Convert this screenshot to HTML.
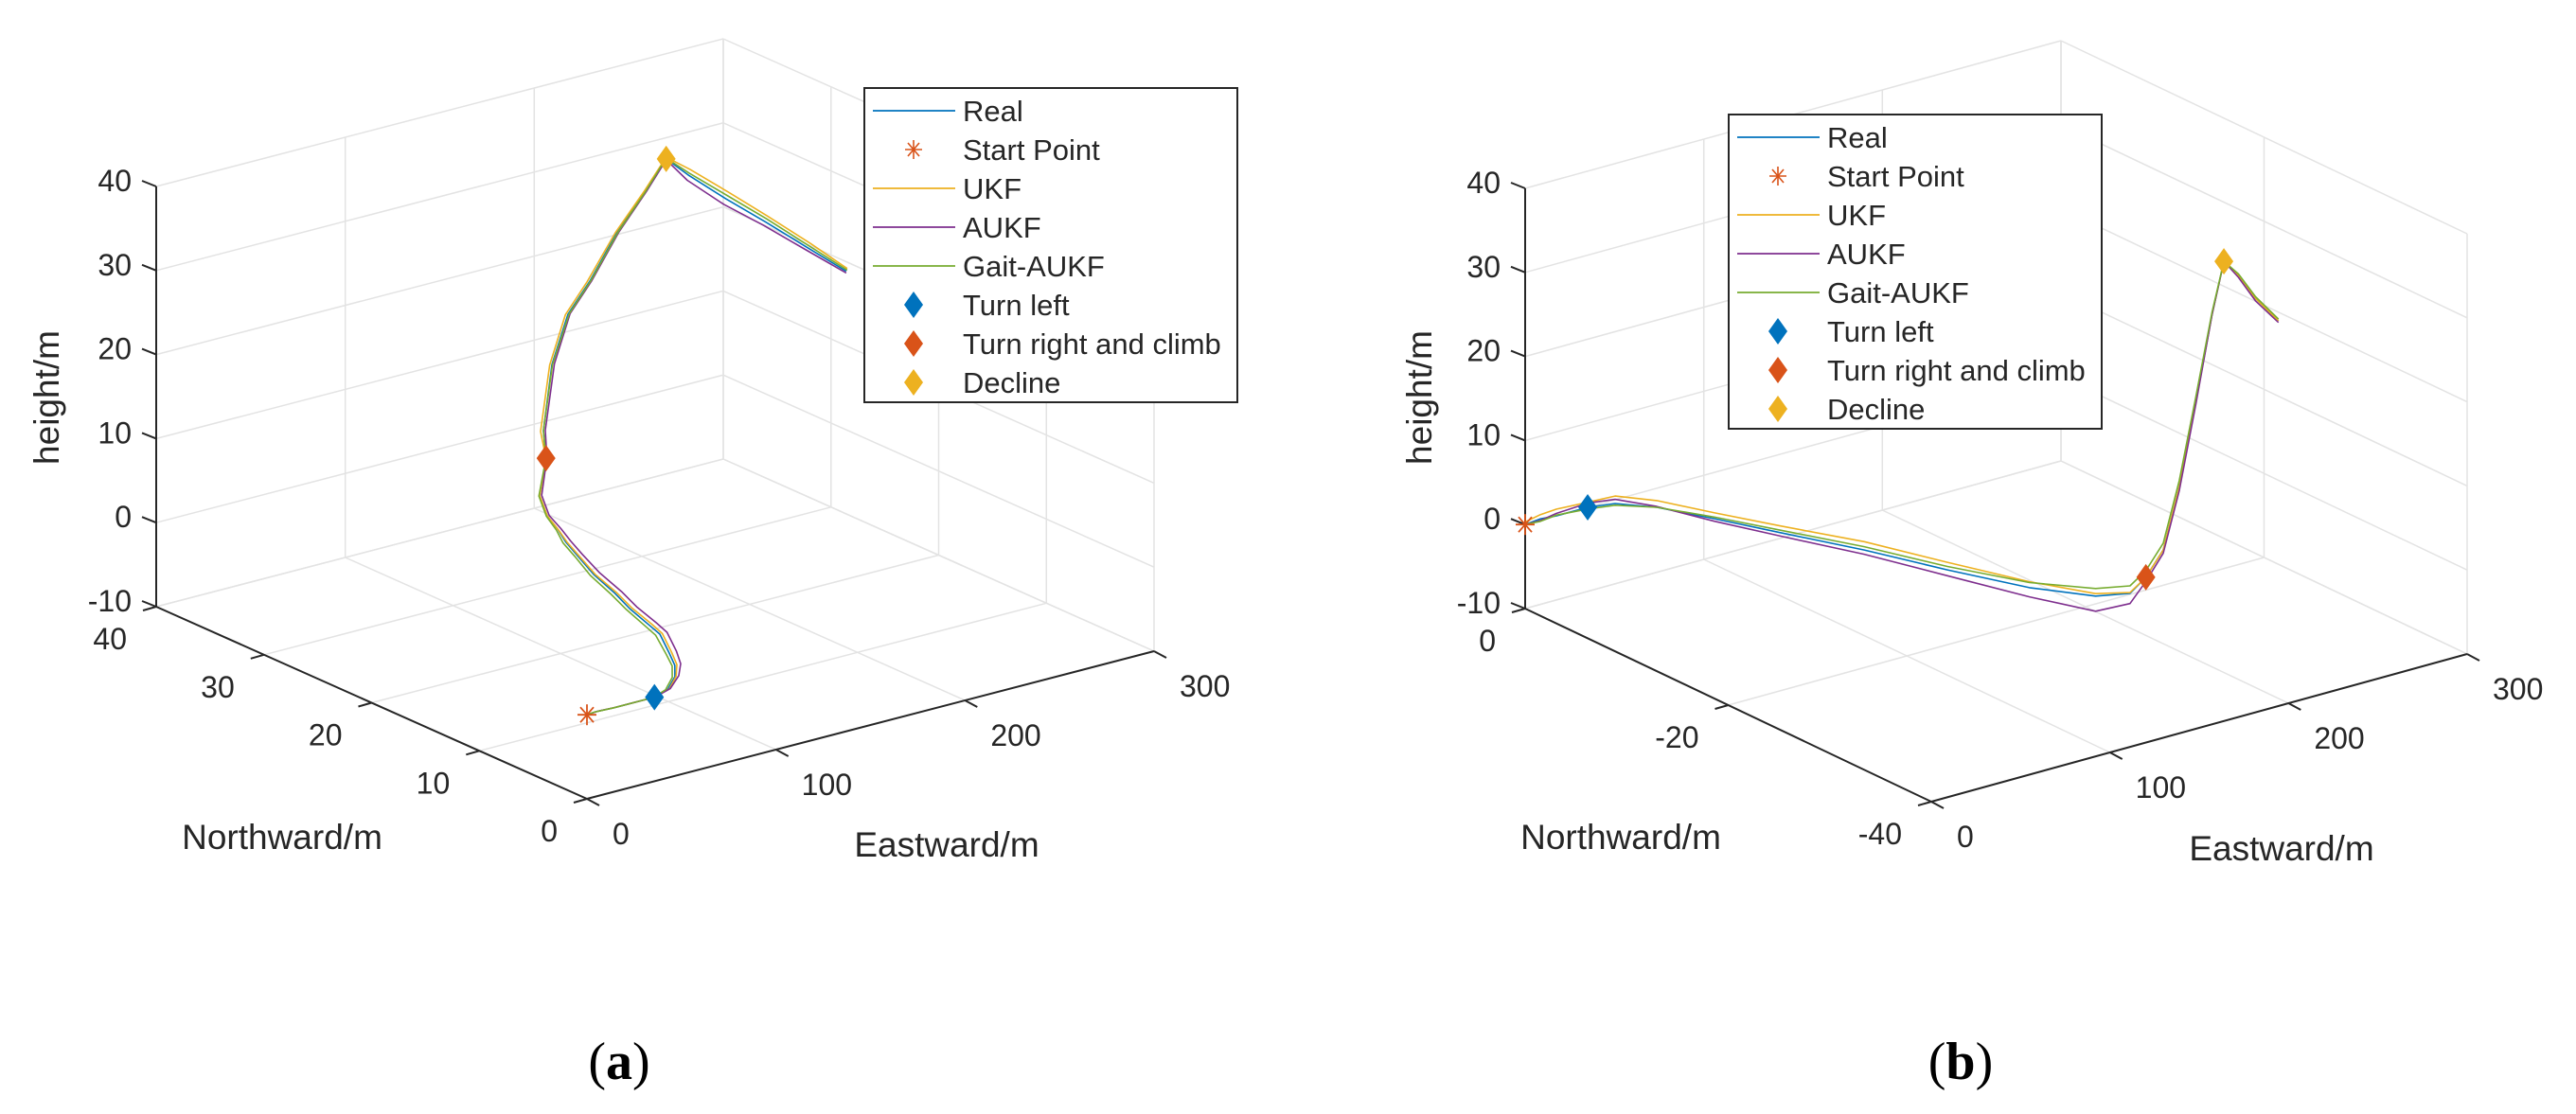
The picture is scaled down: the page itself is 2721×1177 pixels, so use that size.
<!DOCTYPE html>
<html><head><meta charset="utf-8"><style>
html,body{margin:0;padding:0;background:#fff;}
svg{display:block;}
text{font-family:"Liberation Sans",Arial,sans-serif;fill:#262626;}
.cap{font-family:"Liberation Serif",serif;fill:#000;}
</style></head><body>
<svg id="fig" width="2721" height="1177" viewBox="0 0 2721 1177" xmlns="http://www.w3.org/2000/svg">
<rect width="2721" height="1177" fill="#fff"/>
<g id="panelA"></g>
<g id="panelB"></g>
<text class="cap" x="654" y="1140" font-size="56" text-anchor="middle">(<tspan font-weight="bold">a</tspan>)</text>
<text class="cap" x="2071" y="1140" font-size="56" text-anchor="middle">(<tspan font-weight="bold">b</tspan>)</text>
</svg>
<script>
// ---------- Panel (a) data ----------
const aE_real = [0,5.4,14.6,24.5,35.7,46.2,57.9,66.4,73.7,84.7,88,93.8,100.3,107.3,116,122.2,128.9,130,130,135,136.5,146.7,160.9,181,204,227,247,253,261.6,270.8,282.4,291];
const aE_ukf  = [0,5,15,25,36,47,58.5,67.5,75,86,89.5,95,101.3,108,116.6,122.7,129,130,130,135,135,145.5,159.5,179.5,203,226.5,247,254,263,272,283.5,291.5];
const aE_aukf = [0,6,14,25,36,47.5,60,69.5,77.5,88.5,92,97.5,103.8,110.5,118.6,124.7,130.5,131,131,135.5,137.5,148,162,182,205,228,247,252.5,260.5,270,281.5,291];
const aE_gait = [0,4.5,13.5,23.5,35,45,56.5,65,72,82.5,86,92,98.3,105.5,114.6,120.7,128,129.5,129.5,135,136.5,147,161.5,181.5,204.5,227.5,247,253.5,262.5,271.5,283,291.5];
const aN = [0,0.1,0,0,0,0.6,2.0,3.5,5.3,8.1,9.7,12.5,15,18.2,21.25,23.4,25.3,26.5,27.2,27.5,28,29,30,31.5,33,34.5,36,35,33,31,29,27];
const aZ_real = [0,0,0,0,0,0,0,0,0,0,0,0,0,0,0,0,0,0.9,2.9,6.9,9.8,16.5,21.1,23,26.6,29.2,31.1,29.4,27.2,25.1,22.4,20.3];
const aZ_ukf  = [0,0,0,0,0,0,0,0,0,0,0,0,0,0,0,0,0,0.9,2.9,6.9,9.8,16.5,21.1,23,26.6,29.2,31.3,30,27.9,25.7,22.9,20.6];
const aZ_aukf = [0,0,0,0,0,0,0,0,0,0,0,0,0,0,0,0,0,0.9,2.9,6.9,9.8,16.5,21.1,23,26.6,29.2,31,28.8,26.6,24.7,22.2,20.1];
const aZ_gait = [0,0,0,0,0,0,0,0,0,0,0,0,0,0,0,0,0,0.9,2.9,6.9,9.8,16.5,21.1,23,26.6,29.2,31.2,29.6,27.5,25.4,22.6,20.4];
const aMarkers = [0,4,19,26]; // start, turn left, turn right & climb, decline
// ---------- Panel (b) data ----------
const bE = [0,9.7,17.6,35,47.5,59.5,71.5,84.4,101.2,115.9,131.7,148.8,163,171.3,175.9,184.3,198.2,218,243.4,250.4,258.3,265.4];
const bN = [0,0.2,0,0,-0.5,-2.5,-6.1,-10.3,-15.6,-21.2,-26.5,-30,-30.9,-31,-31.9,-32,-31.2,-29.3,-26,-26.2,-26.5,-27.5];
const bZ_real = [0,0,0,0,0,0,0,0,0,0,0,0,0,1.5,5,12,21,29,32,30,27,24.5];
const bZ_ukf  = [0.3,0.5,0.8,0.6,0.9,0.8,0.7,0.8,1.0,0.9,0.7,0.3,0.1,1.5,5,12,21,29,32,30,27,24.5];
const bZ_aukf = [0,-0.2,0.3,0.5,0.5,0.1,-0.3,-0.4,-0.5,-0.7,-1.1,-1.8,-1.2,1.0,4.6,11.6,20.7,29,32,29.8,26.7,24.3];
const bZ_gait = [0,-0.3,0.1,-0.2,-0.2,0,0.2,0.3,0.4,0.4,0.6,0.9,0.9,2.3,5.8,12.8,21.6,29.3,32,30.2,27.2,24.7];
const bMarkers = [0,3,13,18];
// ---------- Ticks / legend ----------
const zTicks = [-10,0,10,20,30,40];
const eTicks = [0,100,200,300];
const aNTicks = [0,10,20,30,40];
const bNTicks = [-40,-20,0];
const legendLabels = ["Real","Start Point","UKF","AUKF","Gait-AUKF","Turn left","Turn right and climb","Decline"];
const COL = {real:"#0072BD",start:"#D95319",ukf:"#EDB120",aukf:"#7E2F8E",gait:"#77AC30",tl:"#0072BD",tr:"#D95319",dec:"#EDB120"};
const NS="http://www.w3.org/2000/svg";

function mk(parent, tag, attrs){
  const el=document.createElementNS(NS,tag);
  for(const k in attrs) el.setAttribute(k,attrs[k]);
  parent.appendChild(el); return el;
}

function panel(g, cfg){
  const proj=(E,N,Z)=>{
    const e=E/300, n=(N-cfg.nFront)/(cfg.nBack-cfg.nFront);
    return [cfg.F[0]+e*cfg.Ev[0]+n*cfg.Nv[0], cfg.F[1]+e*cfg.Ev[1]+n*cfg.Nv[1]-(Z+10)*cfg.zs];
  };
  const line=(p,q,stroke,w,name)=>{
    const l=mk(g,"line",{x1:p[0].toFixed(1),y1:p[1].toFixed(1),x2:q[0].toFixed(1),y2:q[1].toFixed(1),stroke:stroke,"stroke-width":w});
    
    
  };
  const GC="#e3e3e3";
  zTicks.forEach(z=>line(proj(0,cfg.nBack,z),proj(300,cfg.nBack,z),GC,1.5,"grid-z-back"));
  eTicks.forEach(e=>line(proj(e,cfg.nBack,-10),proj(e,cfg.nBack,40),GC,1.5,"grid-e-back"));
  zTicks.forEach(z=>line(proj(300,cfg.nFront,z),proj(300,cfg.nBack,z),GC,1.5,"grid-z-side"));
  cfg.nTicks.forEach(n=>line(proj(300,n,-10),proj(300,n,40),GC,1.5,"grid-n-side"));
  eTicks.forEach(e=>line(proj(e,cfg.nFront,-10),proj(e,cfg.nBack,-10),GC,1.5,"grid-e-floor"));
  cfg.nTicks.forEach(n=>line(proj(0,n,-10),proj(300,n,-10),GC,1.5,"grid-n-floor"));
  const AC="#262626";
  line(proj(0,cfg.nBack,-10),proj(0,cfg.nBack,40),AC,2,"z-axis");
  line(proj(0,cfg.nFront,-10),proj(0,cfg.nBack,-10),AC,2,"northward-axis");
  line(proj(0,cfg.nFront,-10),proj(300,cfg.nFront,-10),AC,2,"eastward-axis");
  zTicks.forEach(z=>{
    const p=proj(0,cfg.nBack,z);
    line(p,[p[0]-15,p[1]-6],AC,2,"z-tick");
    const t=mk(g,"text",{x:p[0]-26,y:p[1]+5,"font-size":32,"text-anchor":"end"});
    t.textContent=z;
    
    
  });
  eTicks.forEach(e=>{
    const p=proj(e,cfg.nFront,-10);
    line(p,[p[0]+13,p[1]+7],AC,2,"e-tick");
    const t=mk(g,"text",{x:p[0]+27,y:p[1]+48,"font-size":32,"text-anchor":"start"});
    t.textContent=e;
    
    
  });
  cfg.nTicks.forEach(n=>{
    const p=proj(0,n,-10);
    line(p,[p[0]-14,p[1]+4],AC,2,"n-tick");
    const t=mk(g,"text",{x:p[0]-31,y:p[1]+45,"font-size":32,"text-anchor":"end"});
    t.textContent=n;
    
    
  });
  let t=mk(g,"text",{x:cfg.nTitle[0],y:cfg.nTitle[1],"font-size":37,"text-anchor":"middle"});
  t.textContent="Northward/m";
  
  
  t=mk(g,"text",{x:cfg.eTitle[0],y:cfg.eTitle[1],"font-size":37,"text-anchor":"middle"});
  t.textContent="Eastward/m";
  
  
  t=mk(g,"text",{x:0,y:0,"font-size":37,"text-anchor":"middle",transform:`translate(${cfg.hTitle[0]},${cfg.hTitle[1]}) rotate(-90)`});
  t.textContent="height/m";
  
  
  const series=[["real",cfg.E.real,cfg.Z.real],["ukf",cfg.E.ukf,cfg.Z.ukf],["aukf",cfg.E.aukf,cfg.Z.aukf],["gait",cfg.E.gait,cfg.Z.gait]];
  series.forEach(s=>{
    const pts=s[1].map((e,i)=>proj(e,cfg.N[i],s[2][i]).map(v=>v.toFixed(1)).join(",")).join(" ");
    const pl=mk(g,"polyline",{points:pts,fill:"none",stroke:COL[s[0]],"stroke-width":1.6,"stroke-linejoin":"round"});
    
    
  });
  const at=i=>proj(cfg.E.real[i],cfg.N[i],cfg.Z.real[i]);
  const sp=at(cfg.M[0]);
  const star=mk(g,"g",{stroke:COL.start,"stroke-width":1.8});
  
  
  [[0,-11,0,11],[-10,0,10,0],[-7,-8,7,8],[-7,8,7,-8]].forEach(d=>mk(star,"line",{x1:sp[0]+d[0],y1:sp[1]+d[1],x2:sp[0]+d[2],y2:sp[1]+d[3]}));
  [["tl",1],["tr",2],["dec",3]].forEach(m=>{
    const p=at(cfg.M[m[1]]);
    const d=mk(g,"polygon",{points:`${p[0]},${p[1]-14} ${p[0]+10},${p[1]} ${p[0]},${p[1]+14} ${p[0]-10},${p[1]}`,fill:COL[m[0]]});
    
    
  });
  const L=cfg.legend;
  const lg=mk(g,"g",{});
  
  
  mk(lg,"rect",{x:L.x,y:L.y,width:L.w,height:L.h,fill:"#fff",stroke:"#262626","stroke-width":2});
  const keys=["real","start","ukf","aukf","gait","tl","tr","dec"];
  keys.forEach((k,i)=>{
    const cy=L.y+24+i*41;
    const it=mk(lg,"g",{});
    
    
    if(["real","ukf","aukf","gait"].includes(k)){
      mk(it,"line",{x1:L.x+9,y1:cy,x2:L.x+96,y2:cy,stroke:COL[k],"stroke-width":1.8});
    } else if(k==="start"){
      const cx=L.x+52;
      [[0,-10,0,10],[-9,0,9,0],[-6,-7,6,7],[-6,7,6,-7]].forEach(d=>mk(it,"line",{x1:cx+d[0],y1:cy+d[1],x2:cx+d[2],y2:cy+d[3],stroke:COL.start,"stroke-width":1.6}));
    } else {
      const cx=L.x+52;
      mk(it,"polygon",{points:`${cx},${cy-14} ${cx+10},${cy} ${cx},${cy+14} ${cx-10},${cy}`,fill:COL[k]});
    }
    const tt=mk(it,"text",{x:L.x+104,y:cy+11,"font-size":31,fill:"#000"});
    tt.textContent=legendLabels[i];
  });
}

panel(document.getElementById("panelA"),{
  F:[620,844],Ev:[599,-156],Nv:[-455,-203],zs:8.88,nFront:0,nBack:40,nTicks:aNTicks,
  E:{real:aE_real,ukf:aE_ukf,aukf:aE_aukf,gait:aE_gait},N:aN,
  Z:{real:aZ_real,ukf:aZ_ukf,aukf:aZ_aukf,gait:aZ_gait},M:aMarkers,
  nTitle:[298,897],eTitle:[1000,905],hTitle:[62,420],
  legend:{x:913,y:93,w:394,h:332}
});
panel(document.getElementById("panelB"),{
  F:[2040,847],Ev:[566,-156],Nv:[-429,-204],zs:8.88,nFront:-40,nBack:0,nTicks:bNTicks,
  E:{real:bE,ukf:bE,aukf:bE,gait:bE},N:bN,
  Z:{real:bZ_real,ukf:bZ_ukf,aukf:bZ_aukf,gait:bZ_gait},M:bMarkers,
  nTitle:[1712,897],eTitle:[2410,909],hTitle:[1512,420],
  legend:{x:1826,y:121,w:394,h:332}
});
</script>
</body></html>
